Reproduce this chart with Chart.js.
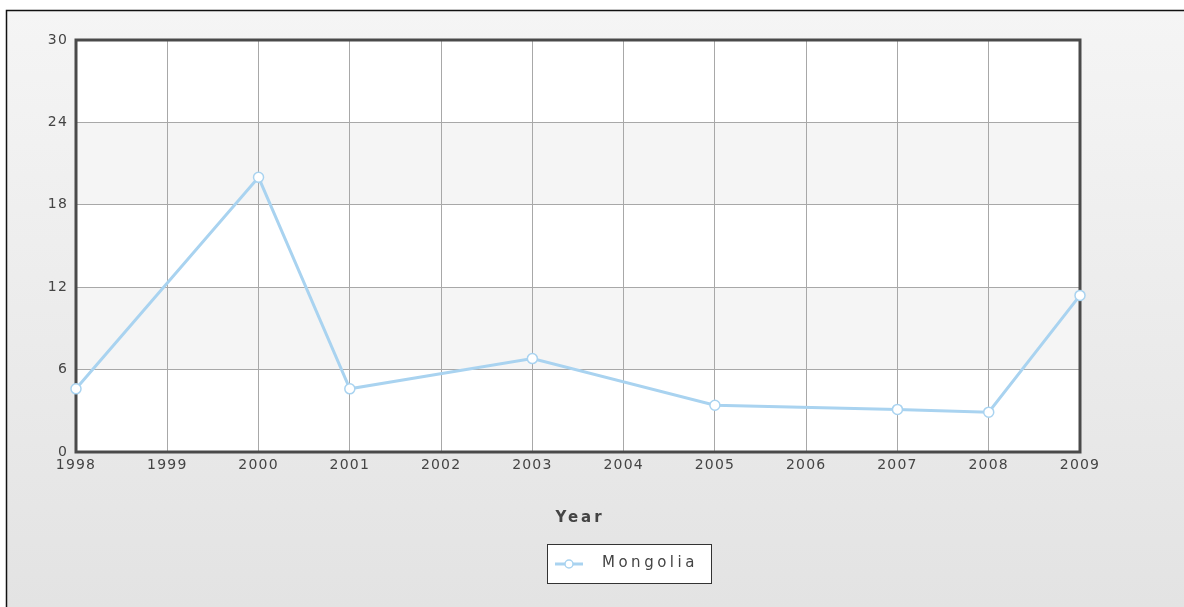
<!DOCTYPE html>
<html>
<head>
<meta charset="utf-8">
<script src="https://cdn.jsdelivr.net/npm/chart.js@4.4.1/dist/chart.umd.min.js"></script>
<style>
  html, body { margin: 0; padding: 0; background: #fff; }
  #wrap { width: 1184px; height: 607px; position: relative; }
</style>
</head>
<body>
<div id="wrap"><canvas id="lineChart" width="1184" height="607"></canvas></div>
<script>
// years on the x axis; only some years have a value
const years = ['1998', '1999', '2000', '2001', '2002', '2003', '2004', '2005', '2006', '2007', '2008', '2009'];
const mongolia = [4.6, null, 20.0, 4.6, null, 6.8, null, 3.4, null, 3.1, 2.9, 11.4];
const yTicks = [0, 6, 12, 18, 24, 30];
const seriesName = 'Mongolia';
const axisTitle = 'Year';

const lineColor = '#a9d3f0';
const textColor = '#444';

const framePlugin = {
    id: 'frame',
    beforeDraw(chart) {
        const ctx = chart.ctx;
        const area = chart.chartArea;
        ctx.save();
        // panel background
        const g = ctx.createLinearGradient(0, 10, 0, chart.height);
        g.addColorStop(0, '#f5f5f5');
        g.addColorStop(1, '#e3e3e3');
        ctx.fillStyle = g;
        ctx.fillRect(6, 10, chart.width - 6, chart.height - 10);
        ctx.strokeStyle = '#111';
        ctx.lineWidth = 1.5;
        ctx.beginPath();
        ctx.moveTo(6.5, chart.height);
        ctx.lineTo(6.5, 10.5);
        ctx.lineTo(chart.width, 10.5);
        ctx.stroke();

        // alternating bands
        const y = chart.scales.y;
        for (let i = 0; i < yTicks.length - 1; i++) {
            const top = y.getPixelForValue(yTicks[i + 1]);
            const bottom = y.getPixelForValue(yTicks[i]);
            ctx.fillStyle = i % 2 === 0 ? '#ffffff' : '#f5f5f5';
            ctx.fillRect(area.left, top, area.right - area.left, bottom - top);
        }
        ctx.restore();
        ctx.letterSpacing = '1.2px';
    },
    beforeDatasetsDraw(chart) {
        const ctx = chart.ctx;
        const area = chart.chartArea;
        ctx.save();
        ctx.strokeStyle = '#4a4a4a';
        ctx.lineWidth = 3;
        ctx.strokeRect(area.left, area.top, area.right - area.left, area.bottom - area.top);
        ctx.restore();
    },
    afterDraw(chart) {
        const ctx = chart.ctx;
        const area = chart.chartArea;
        ctx.save();
        // axis title
        ctx.letterSpacing = '3px';
        ctx.fillStyle = textColor;
        ctx.font = 'bold 15px "DejaVu Sans"';
        ctx.textBaseline = 'middle';
        ctx.textAlign = 'center';
        ctx.fillText(axisTitle, 580, 518);

        // legend box
        const x0 = 547, y0 = 544, w = 165, h = 40;
        ctx.fillStyle = '#fff';
        ctx.fillRect(x0, y0, w, h);
        ctx.strokeStyle = '#333';
        ctx.lineWidth = 1;
        ctx.strokeRect(x0 + 0.5, y0 + 0.5, w - 1, h - 1);
        ctx.strokeStyle = lineColor;
        ctx.lineWidth = 3;
        ctx.beginPath();
        ctx.moveTo(555, y0 + 20);
        ctx.lineTo(583, y0 + 20);
        ctx.stroke();
        ctx.fillStyle = '#fff';
        ctx.lineWidth = 1.5;
        ctx.beginPath();
        ctx.arc(569, y0 + 20, 4, 0, Math.PI * 2);
        ctx.fill();
        ctx.stroke();
        ctx.letterSpacing = '3.5px';
        ctx.fillStyle = textColor;
        ctx.font = '15px "DejaVu Sans"';
        ctx.textAlign = 'left';
        ctx.fillText(seriesName, 602, y0 + 19);
        ctx.restore();
    }
};

const ctx = document.getElementById('lineChart').getContext('2d');

new Chart(ctx, {
    type: 'line',
    data: {
        labels: years,
        datasets: [{
            label: seriesName,
            data: mongolia,
            spanGaps: true,
            borderColor: lineColor,
            borderWidth: 3,
            pointRadius: 5,
            pointBorderWidth: 1.5,
            pointBackgroundColor: '#ffffff',
            pointBorderColor: lineColor,
            tension: 0
        }]
    },
    options: {
        responsive: false,
        animation: false,
        layout: {
            padding: { top: 40, right: 104, bottom: 0, left: 0 }
        },
        scales: {
            x: {
                offset: false,
                grid: { color: '#a8a8a8', lineWidth: 1, drawTicks: false },
                border: { display: false },
                ticks: {
                    color: textColor,
                    font: { family: 'DejaVu Sans', size: 14 },
                    padding: 5,
                    maxRotation: 0,
                    autoSkip: false
                },
                afterFit(scale) { scale.height = 155; }
            },
            y: {
                min: 0,
                max: 30,
                grid: { color: '#a8a8a8', lineWidth: 1, drawTicks: false },
                border: { display: false },
                ticks: {
                    stepSize: 6,
                    color: textColor,
                    font: { family: 'DejaVu Sans', size: 14 },
                    padding: 8
                },
                afterFit(scale) { scale.width = 76; }
            }
        },
        plugins: {
            legend: { display: false },
            tooltip: { enabled: false }
        }
    },
    plugins: [framePlugin]
});
</script>
</body>
</html>
